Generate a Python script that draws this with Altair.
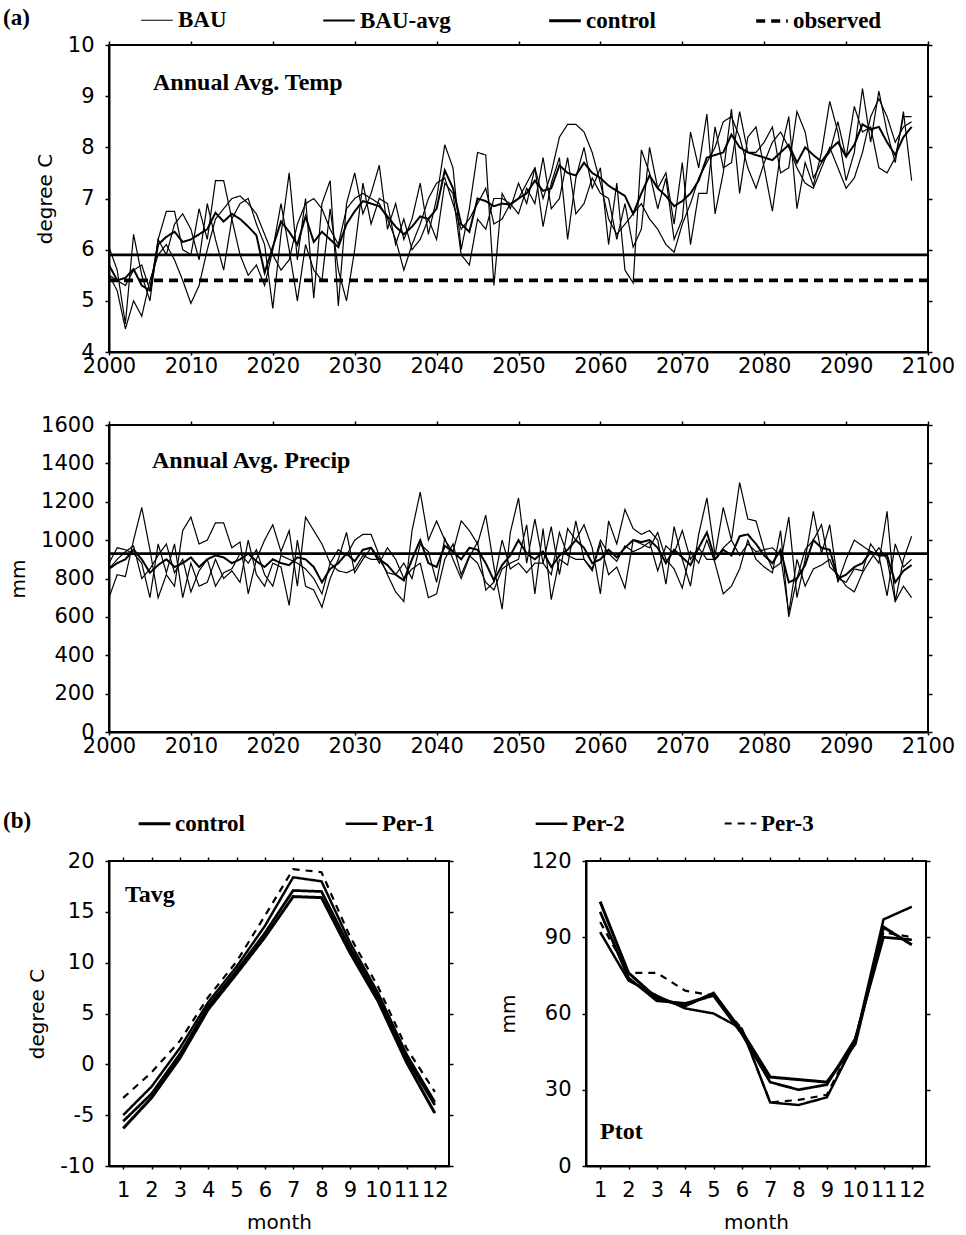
import altair as alt
import pandas as pd

# ---------------- data ----------------
years = list(range(2000, 2099))
span_years = [2000, 2100]

temp_bau_1 = [6.05, 5.60, 4.55, 6.30, 5.50, 5.00, 6.20, 6.75, 6.75, 6.00,
              5.90, 6.80, 6.20, 7.35, 7.35, 6.60, 6.90, 7.00, 6.50, 6.10,
              4.85, 6.30, 7.50, 5.80, 7.00, 5.05, 6.90, 7.35, 4.90, 6.90,
              7.50, 6.70, 7.10, 7.65, 6.40, 6.90, 6.20, 6.60, 7.30, 6.30,
              7.00, 8.05, 7.60, 6.00, 6.80, 7.90, 7.85, 5.30, 7.10, 6.80,
              7.30, 6.90, 7.60, 6.45, 7.30, 7.80, 6.20, 7.40, 8.00, 7.20,
              7.60, 6.10, 7.30, 5.60, 5.35, 7.95, 7.50, 6.80, 7.40, 6.20,
              6.60, 8.30, 7.60, 8.65, 6.70, 7.50, 8.75, 7.10, 8.20, 8.40,
              7.60, 6.75, 7.90, 8.60, 6.80, 7.70, 7.25, 7.90, 8.90, 8.30,
              7.35, 7.90, 9.15, 8.10, 9.10, 8.30, 7.70, 8.70, 7.35]
temp_bau_2 = [5.50, 5.20, 4.45, 5.00, 4.70, 5.40, 5.90, 6.10, 5.80, 5.40,
              4.95, 5.30, 6.00, 6.60, 6.80, 7.00, 7.05, 6.90, 6.70, 6.30,
              5.90, 5.60, 5.80, 6.50, 6.90, 7.00, 6.80, 6.40, 6.10, 6.80,
              7.00, 7.10, 7.00, 6.90, 6.60, 6.20, 5.60, 6.10, 6.50, 7.00,
              7.30, 7.40, 6.90, 6.40, 6.60, 6.90, 7.20, 6.50, 6.60, 6.90,
              7.00, 7.30, 7.60, 7.00, 7.50, 8.20, 8.45, 8.45, 8.30, 7.90,
              7.30, 6.60, 6.30, 6.50, 6.70, 6.90, 6.60, 6.40, 6.10, 5.95,
              6.50, 6.90, 7.40, 7.70, 8.00, 8.50, 8.60, 8.20, 7.60, 7.20,
              7.70, 8.10, 8.30, 8.00, 7.60, 7.30, 7.20, 7.60, 8.00, 7.60,
              7.20, 7.40, 7.90, 8.60, 8.95, 8.60, 8.10, 8.40, 8.50]
temp_bau_3 = [5.50, 5.40, 5.30, 5.60, 5.70, 5.20, 6.20, 5.90, 6.50, 6.70,
              6.40, 5.80, 6.90, 6.20, 5.60, 6.60, 5.90, 5.50, 5.70, 5.30,
              6.00, 6.90, 6.00, 5.00, 6.10, 5.60, 5.40, 6.80, 5.60, 5.00,
              6.00, 7.30, 6.50, 7.00, 6.90, 6.10, 6.60, 6.00, 6.20, 6.60,
              6.20, 7.30, 7.10, 5.90, 5.70, 6.60, 6.40, 7.00, 7.00, 6.90,
              6.70, 7.20, 6.90, 7.80, 6.80, 7.00, 7.80, 6.70, 6.90, 7.40,
              7.10, 7.00, 6.20, 6.90, 6.05, 6.40, 8.00, 7.20, 7.50, 6.50,
              7.70, 6.10, 7.10, 7.10, 8.40, 7.60, 7.70, 8.70, 7.90, 7.90,
              8.10, 8.40, 7.50, 7.60, 8.70, 8.30, 7.40, 7.70, 7.90, 8.50,
              7.80, 8.80, 8.30, 8.40, 7.60, 7.50, 7.80, 8.60, 8.60]
temp_bau_avg = [5.70, 5.40, 5.45, 5.62, 5.30, 5.20, 6.10, 6.25, 6.35, 6.15,
                6.20, 6.30, 6.40, 6.72, 6.55, 6.70, 6.60, 6.45, 6.28, 5.55,
                6.05, 6.55, 6.35, 6.10, 6.65, 6.15, 6.35, 6.20, 6.05, 6.50,
                6.75, 6.95, 6.90, 6.85, 6.65, 6.45, 6.30, 6.45, 6.65, 6.60,
                6.80, 7.55, 7.20, 6.50, 6.35, 7.00, 6.95, 6.85, 6.90, 6.88,
                7.00, 7.10, 7.35, 7.15, 7.20, 7.65, 7.50, 7.45, 7.70, 7.50,
                7.40, 7.25, 7.15, 7.05, 6.70, 7.10, 7.45, 7.20, 7.05, 6.85,
                6.95, 7.10, 7.35, 7.80, 7.85, 7.90, 8.25, 8.00, 7.90, 7.85,
                7.80, 7.75, 7.90, 8.05, 7.70, 8.00, 7.85, 7.72, 7.95, 8.10,
                7.82, 8.05, 8.45, 8.35, 8.40, 8.10, 7.85, 8.20, 8.40]
temp_control = 5.9
temp_observed = 5.4

precip_bau_1 = [700, 820, 810, 1000, 1170, 950, 700, 820, 760, 1050,
                1120, 980, 1000, 1090, 1090, 960, 990, 720, 900, 1000,
                1080, 940, 1050, 760, 1120, 1050, 980, 880, 950, 920,
                1000, 1030, 1030, 920, 820, 730, 680, 1050, 1250, 1000,
                1100, 1000, 940, 1100, 1050, 980, 1130, 860, 640, 1040,
                1220, 880, 1110, 880, 1070, 820, 1060, 1000, 1080, 960,
                720, 1100, 980, 1160, 1060, 1030, 1050, 1000, 770, 1070,
                900, 760, 1030, 1220, 920, 1170, 1000, 1300, 1110, 1100,
                950, 850, 880, 1120, 700, 900, 1150, 930, 1080, 780,
                900, 1000, 970, 940, 880, 1150, 680, 900, 1020]
precip_bau_2 = [880, 960, 950, 930, 880, 700, 980, 830, 980, 700,
                880, 760, 780, 900, 800, 840, 780, 1000, 820, 760,
                880, 860, 660, 1000, 760, 740, 650, 800, 900, 1040,
                830, 900, 960, 880, 960, 900, 800, 850, 880, 700,
                720, 900, 980, 820, 920, 880, 780, 740, 850, 880,
                900, 1080, 720, 1060, 690, 900, 870, 1100, 900, 840,
                980, 820, 860, 750, 1000, 980, 960, 1040, 900, 850,
                750, 940, 880, 1000, 880, 720, 760, 850, 1000, 900,
                860, 830, 1050, 600, 800, 950, 1000, 1080, 860, 820,
                760, 730, 830, 900, 960, 900, 680, 760, 700]
precip_bau_3 = [850, 900, 940, 970, 800, 850, 920, 980, 830, 900,
                730, 840, 900, 760, 830, 850, 930, 880, 950, 820,
                760, 920, 900, 880, 850, 800, 720, 880, 840, 830,
                850, 920, 900, 900, 830, 820, 880, 800, 980, 940,
                780, 1010, 900, 800, 910, 990, 740, 780, 1000, 850,
                880, 830, 880, 880, 820, 1040, 920, 900, 900, 850,
                1000, 930, 890, 970, 940, 960, 990, 840, 970, 930,
                1050, 900, 960, 900, 900, 960, 1000, 920, 980, 940,
                950, 960, 920, 620, 900, 760, 850, 870, 900, 800,
                780, 850, 840, 980, 920, 710, 980, 860, 900]
precip_bau_avg = [850, 880, 900, 950, 900, 830, 870, 900, 860, 880,
                  910, 860, 900, 920, 910, 880, 900, 930, 890, 860,
                  900, 880, 870, 910, 900, 860, 780, 850, 880, 930,
                  890, 950, 960, 900, 870, 820, 790, 900, 1000, 880,
                  860, 970, 940, 900, 960, 950, 880, 790, 870, 920,
                  1000, 930, 900, 940, 860, 920, 950, 1000, 960, 880,
                  900, 950, 910, 960, 1000, 990, 1000, 960, 880, 950,
                  910, 870, 960, 1040, 900, 950, 920, 1020, 1030, 980,
                  920, 880, 950, 780, 800, 870, 1000, 960, 950, 800,
                  820, 860, 880, 940, 920, 920, 780, 840, 870]
precip_control = 930

months = list(range(1, 13))
tavg_control = [-6.3, -3.3, 0.6, 5.4, 8.9, 12.5, 16.5, 16.4, 11.0, 6.2, 0.2, -4.8]
tavg_per1 = [-5.6, -2.9, 1.0, 5.7, 9.2, 12.9, 17.1, 17.0, 11.5, 6.6, 0.6, -4.0]
tavg_per2 = [-5.0, -2.2, 1.6, 6.1, 9.6, 13.6, 18.4, 18.0, 12.0, 7.0, 1.0, -3.7]
tavg_per3 = [-3.3, -0.8, 2.3, 6.6, 10.1, 14.6, 19.2, 18.9, 12.6, 7.6, 1.6, -2.7]
ptot_control = [104, 76, 66, 63, 68, 53, 35, 34, 33, 48, 94, 87]
ptot_per1 = [100, 74, 65, 64, 67, 52, 33, 30, 32, 50, 90, 89]
ptot_per2 = [92, 73, 67, 62, 60, 54, 25, 24, 27, 49, 97, 102]
ptot_per3 = [96, 76, 76, 69, 67, 54, 25, 26, 28, 50, 92, 90]

series_a = ["BAU", "BAU-avg", "control", "observed"]
series_b = ["control", "Per-1", "Per-2", "Per-3"]
year_ticks = list(range(2000, 2101, 10))
temp_ticks = list(range(4, 11))
precip_ticks = list(range(0, 1601, 200))
tavg_ticks = list(range(-10, 21, 5))
ptot_ticks = list(range(0, 121, 30))

# ---------------- tables ----------------
def annual_table(runs, avg, control, observed=None):
    rows = []
    for name, vals in runs:
        rows += [{"year": y, "value": v, "series": "BAU", "run": name} for y, v in zip(years, vals)]
    rows += [{"year": y, "value": v, "series": "BAU-avg", "run": "avg"} for y, v in zip(years, avg)]
    rows += [{"year": y, "value": control, "series": "control", "run": "control"} for y in span_years]
    if observed is not None:
        rows += [{"year": y, "value": observed, "series": "observed", "run": "observed"} for y in span_years]
    return pd.DataFrame(rows)


def monthly_table(parts):
    rows = []
    for name, vals in parts:
        rows += [{"month": m, "value": v, "series": name} for m, v in zip(months, vals)]
    return pd.DataFrame(rows)


df_temp = annual_table([("r1", temp_bau_1), ("r2", temp_bau_2), ("r3", temp_bau_3)],
                       temp_bau_avg, temp_control, temp_observed)
df_precip = annual_table([("r1", precip_bau_1), ("r2", precip_bau_2), ("r3", precip_bau_3)],
                         precip_bau_avg, precip_control)
df_tavg = monthly_table([("control", tavg_control), ("Per-1", tavg_per1),
                         ("Per-2", tavg_per2), ("Per-3", tavg_per3)])
df_ptot = monthly_table([("control", ptot_control), ("Per-1", ptot_per1),
                         ("Per-2", ptot_per2), ("Per-3", ptot_per3)])

# ---------------- styling ----------------
SERIF = "Liberation Serif"
SANS = "DejaVu Sans"
LAB = 21
PLAIN = "datum.value + ''"


def legend(title, y, title_pad, col_pad):
    return alt.Legend(
        title=title, orient="none", legendX=-106, legendY=y, direction="horizontal",
        columns=4, titleOrient="left", titleFont=SERIF, titleFontSize=23,
        titleFontWeight="bold", titleColor="black", titlePadding=title_pad,
        titleBaseline="middle", titleAnchor="middle",
        labelFont=SERIF, labelFontSize=23, labelFontWeight="bold", labelColor="black",
        symbolType="stroke", symbolSize=1000, symbolStrokeColor="black",
        labelOffset=3, columnPadding=col_pad, padding=0)


def styles(domain, widths, dashes, leg):
    sw = alt.StrokeWidth("series:N", scale=alt.Scale(domain=domain, range=widths), legend=leg)
    sd = alt.StrokeDash("series:N", scale=alt.Scale(domain=domain, range=dashes), legend=leg)
    return sw, sd


def xaxis(values, title=None, pad=0, title_pad=12, **kw):
    return alt.Axis(values=values, labelExpr=PLAIN, title=title, tickSize=3, labelPadding=pad,
                    labelFlush=False, labelOverlap=False, titlePadding=title_pad, **kw)


def yaxis(values, title):
    return alt.Axis(values=values, labelExpr=PLAIN, title=title, tickSize=4, labelPadding=11,
                    titlePadding=12, labelOverlap=False)


def frame_layer(df, xfield, yfield, xvals, yvals):
    return alt.Chart(df).mark_line(opacity=0).encode(
        x=alt.X(xfield, axis=alt.Axis(orient="top", values=xvals, labels=False, title=None,
                                      domain=False, tickSize=4)),
        y=alt.Y(yfield, axis=alt.Axis(orient="right", values=yvals, labels=False, title=None,
                                      domain=False, tickSize=4)),
    )


def label_layer(text, x, y):
    return alt.Chart(pd.DataFrame({"t": [text]})).mark_text(
        align="left", baseline="middle", font=SERIF, fontSize=24, fontWeight="bold",
        color="black").encode(text="t:N", x=alt.value(x), y=alt.value(y))


W_ANNUAL, H_ANNUAL = 819, 307
W_MONTH, H_MONTH = 340, 305

# ---------------- panel (a): temperature ----------------
sw_a, sd_a = styles(series_a, [1.2, 3.6, 3.0, 2.0], [[1, 0], [1, 0], [1, 0], [9, 6]],
                    legend("(a)", -42, 109, 92))
temp_lines = alt.Chart(df_temp).mark_line(color="black").encode(
    x=alt.X("year:Q", scale=alt.Scale(domain=[2000, 2100], nice=False, zero=False),
            axis=xaxis(year_ticks)),
    y=alt.Y("value:Q", scale=alt.Scale(domain=[4, 10], nice=False, zero=False),
            axis=yaxis(temp_ticks, "degree C")),
    strokeWidth=sw_a, strokeDash=sd_a, detail="run:N",
)
temp = alt.layer(
    temp_lines,
    frame_layer(df_temp, "year:Q", "value:Q", year_ticks, temp_ticks),
    label_layer("Annual Avg. Temp", 44, 38),
).resolve_axis(x="independent", y="independent").properties(width=W_ANNUAL, height=H_ANNUAL)

# ---------------- panel (a): precipitation ----------------
sw_p, sd_p = styles(series_a, [1.2, 3.6, 3.0, 2.0], [[1, 0], [1, 0], [1, 0], [9, 6]], None)
precip_lines = alt.Chart(df_precip).mark_line(color="black").encode(
    x=alt.X("year:Q", scale=alt.Scale(domain=[2000, 2100], nice=False, zero=False),
            axis=xaxis(year_ticks, title=" ", title_pad=2, titleFontSize=10)),
    y=alt.Y("value:Q", scale=alt.Scale(domain=[0, 1600], nice=False, zero=False),
            axis=yaxis(precip_ticks, "mm")),
    strokeWidth=sw_p, strokeDash=sd_p, detail="run:N",
)
precip = alt.layer(
    precip_lines,
    frame_layer(df_precip, "year:Q", "value:Q", year_ticks, precip_ticks),
    label_layer("Annual Avg. Precip", 43, 36),
).resolve_axis(x="independent", y="independent").properties(width=W_ANNUAL, height=H_ANNUAL)

# ---------------- panel (b) ----------------
widths_b = [3.0, 2.2, 1.6, 1.8]
dashes_b = [[1, 0], [1, 0], [1, 0], [7, 6]]
sw_b, sd_b = styles(series_b, widths_b, dashes_b, legend("(b)", -55, 105, 95))
month_scale = alt.Scale(domain=[0.5, 12.5], nice=False, zero=False)
tavg_lines = alt.Chart(df_tavg).mark_line(color="black").encode(
    x=alt.X("month:Q", scale=month_scale, axis=xaxis(months, "month", pad=10)),
    y=alt.Y("value:Q", scale=alt.Scale(domain=[-10, 20], nice=False, zero=False),
            axis=yaxis(tavg_ticks, "degree C")),
    strokeWidth=sw_b, strokeDash=sd_b, detail="series:N",
)
tavg = alt.layer(
    tavg_lines,
    frame_layer(df_tavg, "month:Q", "value:Q", months, tavg_ticks),
    label_layer("Tavg", 16, 34),
).resolve_axis(x="independent", y="independent").properties(width=W_MONTH, height=H_MONTH)

sw_b2, sd_b2 = styles(series_b, widths_b, dashes_b, None)
ptot_lines = alt.Chart(df_ptot).mark_line(color="black").encode(
    x=alt.X("month:Q", scale=month_scale, axis=xaxis(months, "month", pad=10)),
    y=alt.Y("value:Q", scale=alt.Scale(domain=[0, 120], nice=False, zero=False),
            axis=yaxis(ptot_ticks, "mm")),
    strokeWidth=sw_b2, strokeDash=sd_b2, detail="series:N",
)
ptot = alt.layer(
    ptot_lines,
    frame_layer(df_ptot, "month:Q", "value:Q", months, ptot_ticks),
    label_layer("Ptot", 14, 271),
).resolve_axis(x="independent", y="independent").properties(width=W_MONTH, height=H_MONTH)

bottom = alt.hconcat(tavg, ptot, spacing=137, bounds="flush").resolve_scale(
    x="independent", y="independent", strokeWidth="independent", strokeDash="independent")

chart = alt.vconcat(temp, precip, bottom, spacing=36).resolve_scale(
    x="independent", y="independent", strokeWidth="independent", strokeDash="independent"
).configure_view(stroke="black", strokeWidth=2).configure_axis(
    labelFont=SANS, labelFontSize=LAB, labelColor="black",
    titleFont=SANS, titleFontSize=20, titleFontWeight="normal", titleColor="black",
    domainColor="black", domainWidth=2, tickColor="black", tickWidth=1.5, grid=False,
).properties(padding={"left": 2, "top": 2, "right": 5, "bottom": 5}, background="white")

chart.save("out.html", embed_options={"renderer": "svg", "actions": False})
